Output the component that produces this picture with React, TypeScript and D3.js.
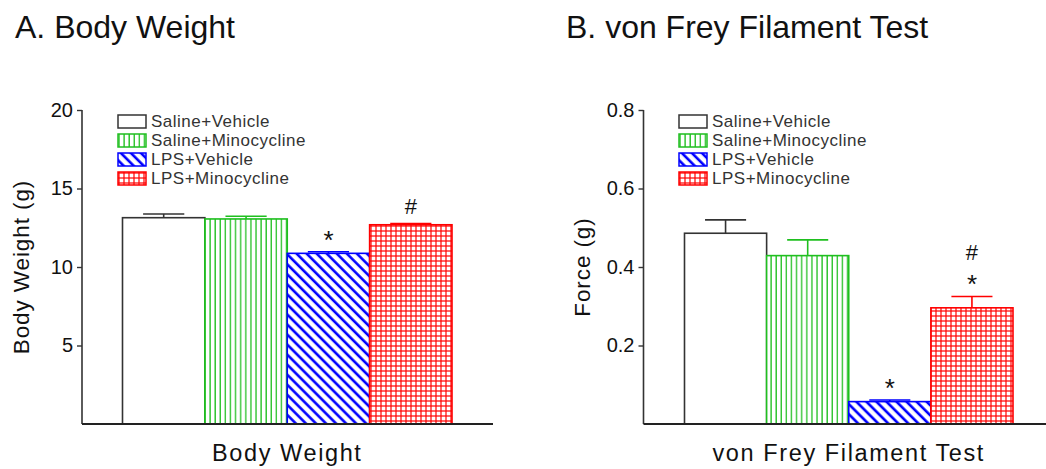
import React, { useEffect, useRef } from 'react';
import * as d3 from 'd3';

const groups = ['Saline+Vehicle', 'Saline+Minocycline', 'LPS+Vehicle', 'LPS+Minocycline'];

const weightMean = [13.14, 13.06, 10.87, 12.69];
const weightSem = [0.24, 0.17, 0.1, 0.07];
const weightMarks = [[], [], ['*'], ['#']];
const weightTicks = [5, 10, 15, 20];

const forceMean = [0.486, 0.429, 0.057, 0.296];
const forceSem = [0.034, 0.04, 0.004, 0.029];
const forceMarks = [[], [], ['*'], ['*', '#']];
const forceTicks = [0.2, 0.4, 0.6, 0.8];

const colors = ['#333333', '#1fbf1f', '#0000ff', '#ff0000'];
const fills = ['#ffffff', 'url(#pat-green)', 'url(#pat-blue)', 'url(#pat-red)'];
const FONT = '"Liberation Sans", Arial, sans-serif';

const App = () => {
  const svgRef = useRef<SVGSVGElement>(null);

  useEffect(() => {
    const svg = d3.select(svgRef.current);
    svg.selectAll('*').remove();
    svg.style('font-family', FONT);

    // hatch patterns
    const defs = svg.append('defs');
    const green = defs.append('pattern').attr('id', 'pat-green')
      .attr('patternUnits', 'userSpaceOnUse').attr('width', 5.1).attr('height', 10);
    green.append('rect').attr('width', 5.1).attr('height', 10).attr('fill', '#fff');
    green.append('line').attr('x1', 1).attr('x2', 1).attr('y1', 0).attr('y2', 10)
      .attr('stroke', colors[1]).attr('stroke-width', 1.3);

    const blue = defs.append('pattern').attr('id', 'pat-blue')
      .attr('patternUnits', 'userSpaceOnUse').attr('width', 7.1).attr('height', 10)
      .attr('patternTransform', 'rotate(-45)');
    blue.append('rect').attr('width', 7.1).attr('height', 10).attr('fill', '#fff');
    blue.append('line').attr('x1', 2).attr('x2', 2).attr('y1', 0).attr('y2', 10)
      .attr('stroke', colors[2]).attr('stroke-width', 2.6);

    const red = defs.append('pattern').attr('id', 'pat-red')
      .attr('patternUnits', 'userSpaceOnUse').attr('width', 5).attr('height', 5);
    red.append('rect').attr('width', 5).attr('height', 5).attr('fill', '#fff');
    red.append('line').attr('x1', 1).attr('x2', 1).attr('y1', 0).attr('y2', 5)
      .attr('stroke', colors[3]).attr('stroke-width', 1.2);
    red.append('line').attr('x1', 0).attr('x2', 5).attr('y1', 1).attr('y2', 1)
      .attr('stroke', colors[3]).attr('stroke-width', 1.2);

    const panel = (opts: {
      title: string; titleX: number; axisX: number; barX: [number, number]; axisEnd: number;
      domain: [number, number]; ticks: number[]; fmt: (d: number) => string;
      yLabel: string; xLabel: string; means: number[]; sems: number[]; marks: string[][];
      legendX: number;
    }) => {
      const g = svg.append('g');
      const y = d3.scaleLinear().domain(opts.domain).range([424, 110]);
      const x = d3.scaleBand<string>().domain(groups).range(opts.barX).padding(0);

      g.append('text').attr('x', opts.titleX).attr('y', 38)
        .style('font-size', '32px').attr('fill', '#111').text(opts.title);

      // bars
      g.selectAll('rect.bar').data(groups).enter().append('rect')
        .attr('class', 'bar')
        .attr('x', d => x(d)!)
        .attr('y', (d, i) => y(opts.means[i]))
        .attr('width', x.bandwidth())
        .attr('height', (d, i) => y(0) - y(opts.means[i]))
        .attr('fill', (d, i) => fills[i])
        .attr('stroke', (d, i) => colors[i])
        .attr('stroke-width', 1.6);

      // error bars (upper only)
      const eb = g.selectAll('g.err').data(groups).enter().append('g').attr('class', 'err')
        .attr('stroke', (d, i) => colors[i]).attr('stroke-width', 1.6);
      eb.append('line')
        .attr('x1', d => x(d)! + x.bandwidth() / 2).attr('x2', d => x(d)! + x.bandwidth() / 2)
        .attr('y1', (d, i) => y(opts.means[i])).attr('y2', (d, i) => y(opts.means[i] + opts.sems[i]));
      eb.append('line')
        .attr('x1', d => x(d)! + x.bandwidth() / 4).attr('x2', d => x(d)! + x.bandwidth() * 3 / 4)
        .attr('y1', (d, i) => y(opts.means[i] + opts.sems[i]))
        .attr('y2', (d, i) => y(opts.means[i] + opts.sems[i]));

      // significance marks
      groups.forEach((grp, i) => {
        opts.marks[i].forEach((m, k) => {
          const top = y(opts.means[i] + opts.sems[i]);
          const yy = m === '*' ? top - 18 - k * 26 + 15 : top - 18 - k * 26 + 8;
          g.append('text').attr('x', x(grp)! + x.bandwidth() / 2).attr('y', yy)
            .attr('text-anchor', 'middle').style('font-size', m === '*' ? '26px' : '22px')
            .attr('fill', '#111').text(m);
        });
      });

      // y axis
      const axis = g.append('g').attr('transform', `translate(${opts.axisX},0)`)
        .call(d3.axisLeft(y).tickValues(opts.ticks).tickSize(5).tickSizeOuter(0)
          .tickPadding(4).tickFormat(d => opts.fmt(d as number)));
      axis.select('.domain').attr('stroke', '#333').attr('stroke-width', 1.6)
        .attr('d', `M0,${y(opts.domain[1])}V${y(0)}`);
      axis.selectAll('.tick line').attr('stroke', '#333').attr('stroke-width', 1.4);
      axis.selectAll('.tick text').style('font-size', '20px').style('font-family', FONT)
        .attr('fill', '#111');

      // baseline
      g.append('line').attr('x1', opts.axisX).attr('x2', opts.axisEnd)
        .attr('y1', y(0)).attr('y2', y(0)).attr('stroke', '#222').attr('stroke-width', 2);

      g.append('text')
        .attr('transform', `translate(${opts.axisX - 61},${(y(opts.domain[1]) + y(0)) / 2}) rotate(-90)`)
        .attr('text-anchor', 'middle').attr('dy', '0.35em')
        .style('font-size', '22.5px').style('letter-spacing', '0.9px').attr('fill', '#111')
        .text(opts.yLabel);

      g.append('text').attr('x', (opts.barX[0] + opts.barX[1]) / 2).attr('y', 461)
        .attr('text-anchor', 'middle').style('font-size', '23.5px').style('letter-spacing', '1.6px')
        .attr('fill', '#111').text(opts.xLabel);

      // legend
      const lg = g.selectAll('g.leg').data(groups).enter().append('g').attr('class', 'leg')
        .attr('transform', (d, i) => `translate(${opts.legendX},${115 + i * 19})`);
      lg.append('rect').attr('width', 28).attr('height', 13)
        .attr('fill', (d, i) => fills[i]).attr('stroke', (d, i) => colors[i]).attr('stroke-width', 1.5);
      lg.append('text').attr('x', 33).attr('y', 6.5).attr('dy', '0.35em')
        .style('font-size', '17px').style('letter-spacing', '0.5px').attr('fill', '#333')
        .text(d => d);
    };

    panel({
      title: 'A. Body Weight', titleX: 15, axisX: 82, barX: [122.5, 452], axisEnd: 493,
      domain: [0, 20], ticks: weightTicks, fmt: d => String(d),
      yLabel: 'Body Weight (g)', xLabel: 'Body Weight',
      means: weightMean, sems: weightSem, marks: weightMarks, legendX: 118,
    });
    panel({
      title: 'B. von Frey Filament Test', titleX: 566, axisX: 643.5, barX: [684.5, 1013], axisEnd: 1046,
      domain: [0, 0.8], ticks: forceTicks, fmt: d => d3.format('.1f')(d),
      yLabel: 'Force (g)', xLabel: 'von Frey Filament Test',
      means: forceMean, sems: forceSem, marks: forceMarks, legendX: 679,
    });
  }, []);

  return (
    <svg ref={svgRef} width={1046} height={469}
      style={{ position: 'absolute', left: 0, top: 0, background: '#fff' }} />
  );
};

export default App;
